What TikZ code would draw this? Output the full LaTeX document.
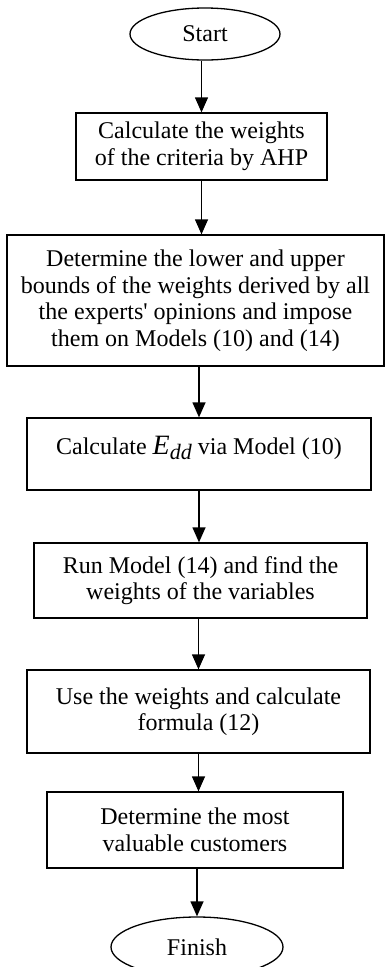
\documentclass[tikz,border=0pt]{standalone}
\usepackage{fontspec}
\setmainfont{Liberation Serif}
\usetikzlibrary{shapes.geometric,arrows.meta}
\begin{document}
\begin{tikzpicture}[x=1pt,y=-1pt,
  txt/.style={font=\fontsize{24}{26.5}\selectfont},
  box/.style={txt, draw, line width=1.3pt, inner sep=0pt, align=center},
  term/.style={txt, draw, ellipse, line width=1.3pt, inner sep=0pt},
  arr/.style={line width=1.3pt, -{Triangle[length=15pt,width=13pt]}}]
\useasboundingbox (0,0) rectangle (386,967);
\node[term, minimum width=150pt, minimum height=52pt] (start) at (205,34) {Start};
\node[box, minimum width=251pt, minimum height=67pt] (b1) at (201.5,146.5) {Calculate the weights\\of the criteria by AHP};
\node[box, minimum width=377pt, minimum height=131pt] (b2) at (195.5,300.5) {Determine the lower and upper\\bounds of the weights derived by all\\the experts\textquotesingle{} opinions and impose\\them on Models (10) and (14)};
\node[box, minimum width=344pt, minimum height=72pt] (b3) at (199,454) {\raisebox{6pt}[\height][\depth]{Calculate {\fontsize{28}{28}\selectfont\textit{E}}\raisebox{-5pt}{\fontsize{22}{22}\selectfont\textit{dd}} via Model (10)}};
\node[box, minimum width=333pt, minimum height=75pt] (b4) at (200.5,580.5) {Run Model (14) and find the\\weights of the variables};
\node[box, minimum width=343pt, minimum height=83pt] (b5) at (198.5,711.5) {Use the weights and calculate\\formula (12)};
\node[box, minimum width=296pt, minimum height=76pt] (b6) at (195,830) {Determine the most\\valuable customers};
\node[term, minimum width=172pt, minimum height=60pt] (finish) at (197,947) {Finish};
\draw[arr] (start.south -| b1.north) -- (b1.north);
\draw[arr] (b1.south) -- (b1.south |- b2.north);
\draw[arr] (b3.north |- b2.south) -- (b3.north);
\draw[arr] (b3.south) -- (b3.south |- b4.north);
\draw[arr] (b5.north |- b4.south) -- (b5.north);
\draw[arr] (b5.south) -- (b5.south |- b6.north);
\draw[arr] (finish.north |- b6.south) -- (finish.north);
\end{tikzpicture}
\end{document}
